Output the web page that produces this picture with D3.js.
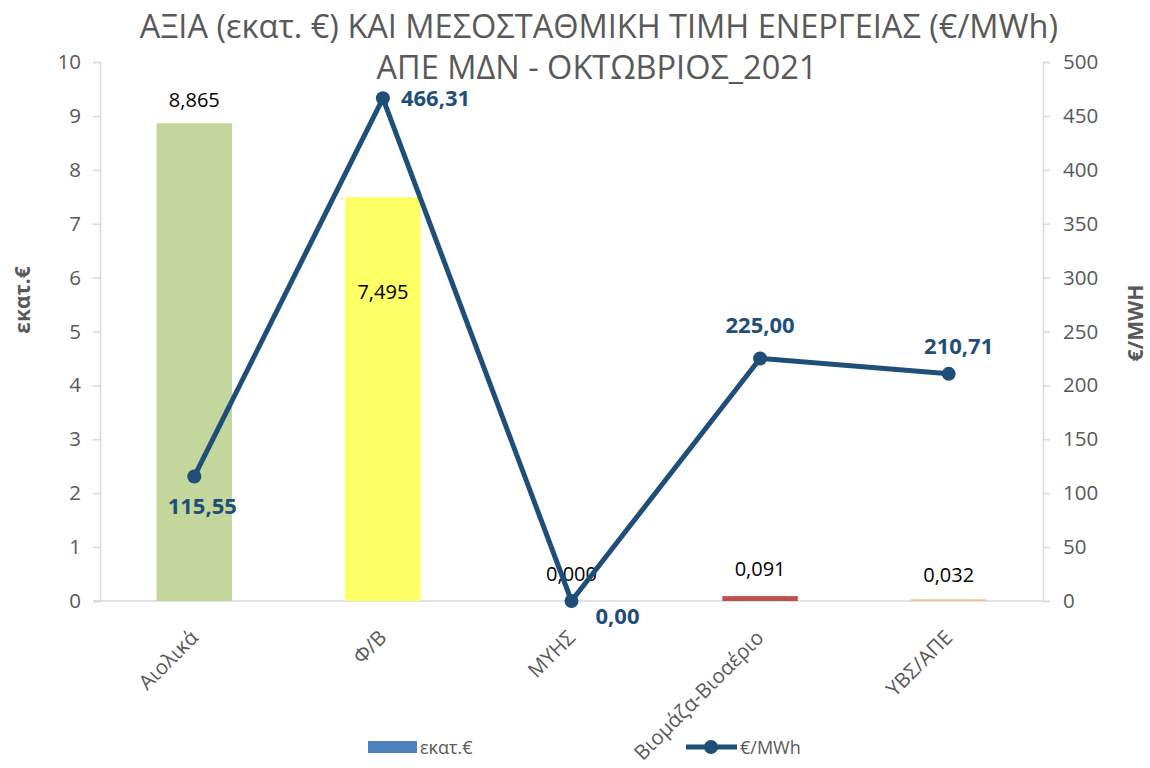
<!DOCTYPE html>
<html><head><meta charset="utf-8">
<script src="https://cdn.jsdelivr.net/npm/d3@7"></script>
<style>body{margin:0;background:#fff}svg{display:block}</style>
</head><body><svg id="c" width="1150" height="768"></svg>
<script>
const categories = ["Αιολικά","Φ/Β","ΜΥΗΣ","Βιομάζα-Βιοαέριο","ΥΒΣ/ΑΠΕ"];
const valueMEuro = [8.865, 7.495, 0.000, 0.091, 0.032];
const priceEurMWh = [115.55, 466.31, 0.00, 225.00, 210.71];
const barColors = ["#C3D69B","#FFFF66","#4F81BD","#C0504D","#FAC090"];
const leftTicks = [0,1,2,3,4,5,6,7,8,9,10];
const rightTicks = [0,50,100,150,200,250,300,350,400,450,500];
const fmt = (v,d)=> v.toFixed(d).replace(".",",");

const svg = d3.select("#c");
const L=100, R=1043, T=62, B=601;
const x = d3.scaleBand().domain(categories).range([L,R]).paddingInner(0.6).paddingOuter(0.3);
const xc = d3.scaleBand().domain(categories).range([L,R]);
const yL = d3.scaleLinear().domain([0,10]).range([B,T]);
const yR = d3.scaleLinear().domain([0,500]).range([B,T]);
const font = "'Open Sans', 'Noto Sans', sans-serif";
const grey = "#595959";

// title
svg.append("text").attr("x",599).attr("y",38).attr("text-anchor","middle")
  .attr("font-family","'Liberation Sans Narrow', 'Open Sans', sans-serif").attr("font-size",32.5).attr("fill",grey)
  .text("ΑΞΙΑ (εκατ. €) ΚΑΙ ΜΕΣΟΣΤΑΘΜΙΚΗ ΤΙΜΗ ΕΝΕΡΓΕΙΑΣ (€/MWh)");
svg.append("text").attr("x",597).attr("y",79).attr("text-anchor","middle")
  .attr("font-family","'Liberation Sans Narrow', 'Open Sans', sans-serif").attr("font-size",32.5).attr("fill",grey)
  .text("ΑΠΕ ΜΔΝ - ΟΚΤΩΒΡΙΟΣ_2021");

// axes
const axL = svg.append("g").attr("transform",`translate(${L},0)`)
  .call(d3.axisLeft(yL).tickValues(leftTicks).tickSize(7).tickPadding(12).tickFormat(d3.format("d")));
const axR = svg.append("g").attr("transform",`translate(${R},0)`)
  .call(d3.axisRight(yR).tickValues(rightTicks).tickSize(7).tickPadding(13).tickFormat(d3.format("d")));
[axL,axR].forEach(a=>{
  a.select(".domain").attr("stroke","#d9d9d9").attr("stroke-width",1.5);
  a.selectAll(".tick line").attr("stroke","#d9d9d9").attr("stroke-width",1.5);
  a.selectAll(".tick text").attr("fill",grey).attr("font-family",font).attr("font-size",20.5);
});
svg.append("line").attr("x1",L-7).attr("x2",R).attr("y1",B).attr("y2",B).attr("stroke","#d9d9d9").attr("stroke-width",1.5);

// axis titles
svg.append("text").attr("transform",`translate(30,300) rotate(-90)`).attr("text-anchor","middle")
  .attr("font-family",font).attr("font-weight","bold").attr("font-size",21).attr("fill",grey).text("εκατ.€");
svg.append("text").attr("transform",`translate(1143,323) rotate(-90)`).attr("text-anchor","middle")
  .attr("font-family",font).attr("font-weight","bold").attr("font-size",21).attr("fill",grey).text("€/MWH");

// bars
svg.append("g").selectAll("rect").data(valueMEuro).join("rect")
  .attr("x",(d,i)=>x(categories[i])).attr("width",x.bandwidth())
  .attr("y",d=>yL(d)).attr("height",d=>B-yL(d)).attr("fill",(d,i)=>barColors[i]);

// bar labels
const barLabelPos = [[0,-16],[0,102],[0,-20],[0,-20],[0,-17]];
svg.append("g").selectAll("text").data(valueMEuro).join("text")
  .attr("x",(d,i)=>xc(categories[i])+xc.bandwidth()/2+barLabelPos[i][0])
  .attr("y",(d,i)=>yL(d)+barLabelPos[i][1])
  .attr("text-anchor","middle").attr("font-family",font).attr("font-size",20).attr("fill","#000")
  .text(d=>fmt(d,3));

// line
const lineColor = "#1F4E79";
const line = d3.line().x((d,i)=>xc(categories[i])+xc.bandwidth()/2).y(d=>yR(d));
svg.append("path").datum(priceEurMWh).attr("d",line).attr("fill","none").attr("stroke",lineColor).attr("stroke-width",5).attr("stroke-linejoin","round");
svg.append("g").selectAll("circle").data(priceEurMWh).join("circle")
  .attr("cx",(d,i)=>xc(categories[i])+xc.bandwidth()/2).attr("cy",d=>yR(d)).attr("r",7).attr("fill",lineColor);

const lineLabelPos = [[8,38,"middle"],[18,8,"start"],[24,23,"start"],[0,-25,"middle"],[10,-20,"middle"]];
svg.append("g").selectAll("text").data(priceEurMWh).join("text")
  .attr("x",(d,i)=>xc(categories[i])+xc.bandwidth()/2+lineLabelPos[i][0])
  .attr("y",(d,i)=>yR(d)+lineLabelPos[i][1])
  .attr("text-anchor",(d,i)=>lineLabelPos[i][2])
  .attr("font-family",font).attr("font-weight","bold").attr("font-size",22).attr("fill",lineColor)
  .text(d=>fmt(d,2));

// category labels
svg.append("g").selectAll("text").data(categories).join("text")
  .attr("transform",(d)=>`translate(${xc(d)+xc.bandwidth()/2+5},${B+38}) rotate(-45)`)
  .attr("text-anchor","end").attr("font-family",font).attr("font-size",20.5).attr("fill",grey)
  .text(d=>d);

// legend
svg.append("rect").attr("x",368).attr("y",741).attr("width",49).attr("height",12).attr("fill","#4F81BD");
svg.append("text").attr("x",420).attr("y",754).attr("font-family",font).attr("font-size",18).attr("fill",grey).text("εκατ.€");
svg.append("line").attr("x1",686).attr("x2",737).attr("y1",747).attr("y2",747).attr("stroke",lineColor).attr("stroke-width",5);
svg.append("circle").attr("cx",711).attr("cy",747).attr("r",7).attr("fill",lineColor);
svg.append("text").attr("x",740).attr("y",754).attr("font-family",font).attr("font-size",18).attr("fill",grey).text("€/MWh");
</script></body></html>
